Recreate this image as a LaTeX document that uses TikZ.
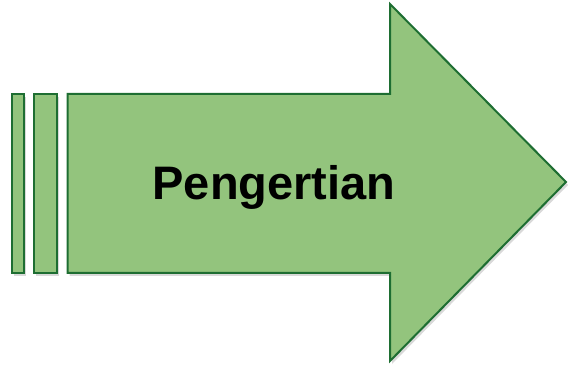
\documentclass[tikz,border=0pt]{standalone}
\usepackage{fontspec}
\setmainfont{Liberation Sans}
\usetikzlibrary{shadows}
\definecolor{arrowfill}{RGB}{147,196,125}
\definecolor{arrowline}{RGB}{30,110,50}
\begin{document}
\begin{tikzpicture}[x=1pt,y=-1pt,
  part/.style={fill=arrowfill,draw=arrowline,line width=2pt,line join=miter,
    drop shadow={shadow xshift=2pt,shadow yshift=-3pt,opacity=0.25,fill=black!60}}]
\useasboundingbox (0,0) rectangle (568,366);
\path[part] (12,94) rectangle (23.5,273);
\path[part] (34,94) rectangle (57,273);
\path[part] (67.5,94) -- (390,94) -- (390,4) -- (566,182) -- (390,361) -- (390,273) -- (67.5,273) -- cycle;
\node[font=\fontsize{47}{50}\selectfont\bfseries,text=black] (label) at (274,187.5) {Pengertian};
\end{tikzpicture}
\end{document}
